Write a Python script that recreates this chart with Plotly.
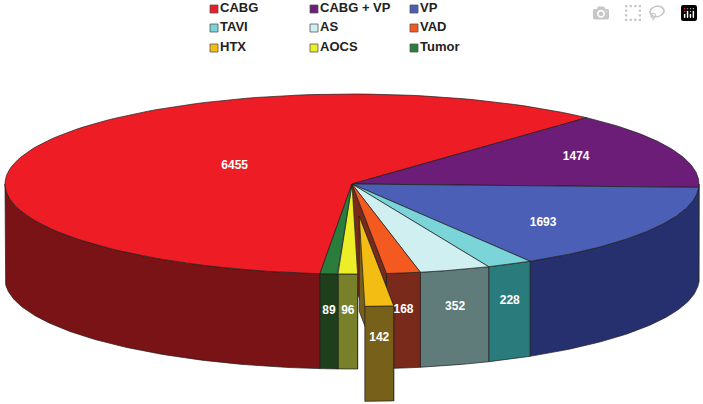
"""
3D-look pie of procedure counts, drawn with filled scatter traces.
"""
import numpy as np
import plotly.graph_objects as go

categories = ['CABG', 'CABG + VP', 'VP', 'TAVI', 'AS', 'VAD', 'HTX', 'AOCS', 'Tumor']
counts = [6455, 1474, 1693, 228, 352, 168, 142, 96, 89]

top_colors = ['#ee1c25', '#6b1d77', '#4a5fb5', '#7ad4d8', '#d0eff0',
              '#f4591f', '#f4bd14', '#eded28', '#2a7d3a']
wall_colors = ['#7a1315', '#4a1452', '#27306f', '#2a7b7c', '#5f7b7a',
               '#7a2a1a', '#77601a', '#78802a', '#1f3f1c']

# projection of the pie on the page, in pixels
CX, CY = 352, 184
RX, RY = 347, 90
DEPTH = 95
START_ANGLE = 264.7
EXPLODED = 'HTX'
EXPLODE = 0.36
EDGE = '#1c1c1c'


def rim(angles, dx=0, dy=0, drop=0):
    rad = np.radians(angles)
    return CX + dx + RX * np.cos(rad), CY + dy + drop - RY * np.sin(rad)


def add_poly(fig, x, y, color):
    fig.add_trace(go.Scatter(
        x=list(x) + [x[0]],
        y=list(y) + [y[0]],
        mode='lines',
        fill='toself',
        fillcolor=color,
        line=dict(color=EDGE, width=0.7),
        hoverinfo='skip',
        showlegend=False,
    ))


def add_top(fig, hi, lo, color, dx=0, dy=0):
    x, y = rim(np.linspace(hi, lo, 120), dx, dy)
    add_poly(fig, [CX + dx, *x], [CY + dy, *y], color)


def add_outer_wall(fig, hi, lo, color, dx=0, dy=0):
    # only the part of the rim that faces the viewer
    if hi > 180:
        lo = max(lo, 180)
    else:
        hi = min(hi, 0)
    if hi <= lo:
        return
    angles = np.linspace(hi, lo, 120)
    x, y = rim(angles, dx, dy)
    x2, y2 = rim(angles[::-1], dx, dy, DEPTH)
    add_poly(fig, [*x, *x2], [*y, *y2], color)


def add_radial_wall(fig, angle, color, dx=0, dy=0):
    x, y = rim(angle, dx, dy)
    add_poly(fig,
             [CX + dx, x, x, CX + dx],
             [CY + dy, y, y + DEPTH, CY + dy + DEPTH],
             color)


sweeps = np.array(counts) / sum(counts) * 360
his = START_ANGLE - np.concatenate([[0], np.cumsum(sweeps)[:-1]])
los = his - sweeps
mids = (his + los) / 2
gap = categories.index(EXPLODED)
mid_rad = np.radians(mids[gap])
off_x = EXPLODE * RX * np.cos(mid_rad)
off_y = -EXPLODE * RY * np.sin(mid_rad)

fig = go.Figure()

# walls left open by the pulled-out slice
add_radial_wall(fig, his[gap + 1], wall_colors[gap - 1])
add_radial_wall(fig, los[gap - 1], wall_colors[gap - 1])

for i in range(len(counts)):
    if i != gap:
        add_outer_wall(fig, his[i], los[i], wall_colors[i])
for i in range(len(counts)):
    if i != gap:
        add_top(fig, his[i], los[i], top_colors[i])

add_radial_wall(fig, his[gap], wall_colors[gap], off_x, off_y)
add_outer_wall(fig, his[gap], los[gap], wall_colors[gap], off_x, off_y)
add_top(fig, his[gap], los[gap], top_colors[gap], off_x, off_y)

# value labels: big slices on the top face, small ones on the wall
label_x, label_y = [], []
for i, name in enumerate(categories):
    if counts[i] > 1000:
        r = {'CABG': 0.37, 'CABG + VP': 0.70, 'VP': 0.64}[name]
        nudge = {'CABG': -5, 'CABG + VP': -3, 'VP': 10}[name]
        px, py = rim(mids[i])
        label_x.append(CX + (px - CX) * r)
        label_y.append(CY + (py - CY) * r + nudge)
    else:
        dx, dy = (off_x, off_y) if i == gap else (0, 0)
        px, py = rim(mids[i], dx, dy)
        label_x.append(px)
        label_y.append(py + 37 - (5 if i == gap else 0))

fig.add_trace(go.Scatter(
    x=label_x,
    y=label_y,
    mode='text',
    text=[f'<b>{c}</b>' for c in counts],
    textposition='middle center',
    textfont=dict(family='Liberation Sans', size=12, color='white'),
    hoverinfo='skip',
    showlegend=False,
))

# legend built by hand, three columns by three rows
legend_col = [214, 314, 414]
legend_row = [9, 28, 48]
legend_x = [legend_col[i % 3] for i in range(len(categories))]
legend_y = [legend_row[i // 3] for i in range(len(categories))]
fig.add_trace(go.Scatter(
    x=legend_x,
    y=legend_y,
    mode='markers+text',
    marker=dict(symbol='square', size=8, color=top_colors,
                line=dict(color='#555555', width=0.8)),
    text=[f'<b>{c}</b>' for c in categories],
    textposition='middle right',
    textfont=dict(family='Liberation Sans', size=13, color='#222222'),
    hoverinfo='skip',
    showlegend=False,
))

fig.update_layout(
    width=703,
    height=404,
    margin=dict(l=0, r=0, t=0, b=0),
    paper_bgcolor='white',
    plot_bgcolor='white',
    showlegend=False,
    xaxis=dict(range=[0, 703], visible=False, fixedrange=True),
    yaxis=dict(range=[404, 0], visible=False, fixedrange=True),
)

fig.write_html("out.html", post_script="document.body.style.margin='0';")
